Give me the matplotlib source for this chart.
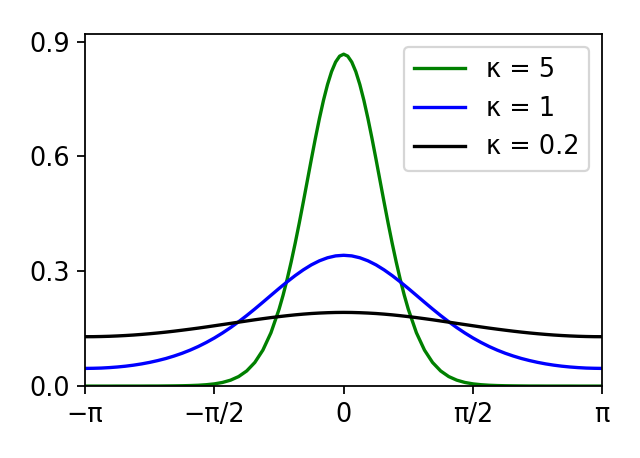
import numpy as np
import matplotlib
matplotlib.use('Agg')
import matplotlib.pyplot as plt

# sample positions in units of pi/64, from 0 to pi (curves are symmetric)
steps_fine = list(range(0, 17)) + list(range(18, 65, 2))
steps = list(range(0, 65, 2))

# right half (0 .. pi) of each curve
k5_half = [0.867, 0.8619, 0.8465, 0.8215, 0.7877, 0.7465, 0.6992, 0.6474, 0.5927,
           0.5365, 0.4805, 0.4257, 0.3734, 0.3242, 0.2787, 0.2374, 0.2005,
           0.1394, 0.0940, 0.0617, 0.0396, 0.0249, 0.0155, 0.0095, 0.0058, 0.0036,
           0.0022, 0.0014, 0.0009, 0.0006, 0.0004, 0.0002, 0.0002, 0.0001, 0.0001,
           0.0001, 0.0001, 0.0, 0.0, 0.0, 0.0]
k1_half = [0.3417, 0.3401, 0.3352, 0.3273, 0.3167, 0.3036, 0.2887, 0.2723, 0.2550,
           0.2371, 0.2191, 0.2014, 0.1843, 0.1681, 0.1528, 0.1387, 0.1257, 0.1140,
           0.1034, 0.0940, 0.0857, 0.0785, 0.0721, 0.0667, 0.0620, 0.0580, 0.0547,
           0.0520, 0.0499, 0.0483, 0.0471, 0.0465, 0.0462]
k02_half = [0.1925, 0.1923, 0.1917, 0.1908, 0.1896, 0.1880, 0.1861, 0.1839, 0.1815,
            0.1789, 0.1761, 0.1732, 0.1701, 0.1670, 0.1638, 0.1607, 0.1576, 0.1545,
            0.1515, 0.1487, 0.1460, 0.1434, 0.1410, 0.1388, 0.1368, 0.1350, 0.1334,
            0.1321, 0.1310, 0.1301, 0.1295, 0.1291, 0.1290]

labels = ['κ = 5', 'κ = 1', 'κ = 0.2']
colors = ['green', 'blue', 'black']
tick_labels = ['−π', '−π/2', '0', 'π/2', 'π']


def mirror(st, half):
    # mirror the right half onto the left side
    x = np.array([-s for s in st[:0:-1]] + st) * np.pi / 64
    return x, half[:0:-1] + half


plt.rcParams['font.size'] = 11.5

fig = plt.figure(figsize=(4.0, 2.8625), dpi=160)
ax = fig.add_axes([0.133, 0.157, 0.808, 0.769])
series = [(steps_fine, k5_half), (steps, k1_half), (steps, k02_half)]
for (st, half), c, lab in zip(series, colors, labels):
    x, y = mirror(st, half)
    ax.plot(x, y, c=c, label=lab)

ax.set_xlim(-np.pi, np.pi)
ax.set_ylim(0, 0.92)
ax.set_xticks([-np.pi, -np.pi / 2, 0, np.pi / 2, np.pi])
ax.set_xticklabels(tick_labels)
ax.set_yticks([0, 0.3, 0.6, 0.9])
ax.legend(loc='upper right')

plt.savefig('out.png', dpi=160)
